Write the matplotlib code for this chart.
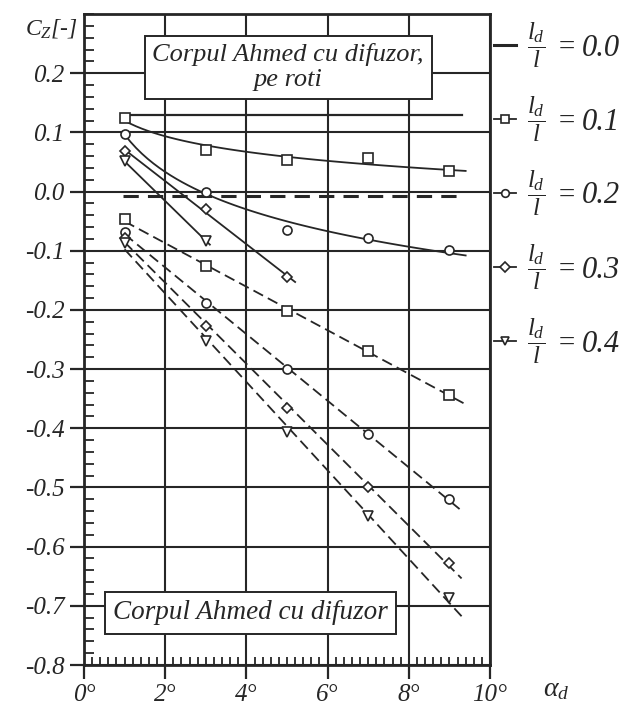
import numpy as np
import matplotlib.pyplot as plt
from matplotlib.lines import Line2D

plt.rcParams['font.family'] = 'Liberation Serif'
plt.rcParams['font.style'] = 'italic'
plt.rcParams['mathtext.fontset'] = 'custom'
plt.rcParams['mathtext.rm'] = 'Liberation Serif:italic'
plt.rcParams['mathtext.it'] = 'Liberation Serif:italic'

ink = '#262626'

# diffuser angle [deg]
alpha = [1, 3, 5, 7, 9]
ratios = ['0.0', '0.1', '0.2', '0.3', '0.4']
markers = [None, 's', 'o', 'D', 'v']

# Ahmed body with diffuser, on wheels (solid lines)
cz_wheels_00 = 0.13
cz_wheels_01 = [0.124, 0.070, 0.053, 0.057, 0.035]
cz_wheels_02 = [0.098, 0.000, -0.065, -0.078, -0.098]
cz_wheels_03 = [0.068, -0.030, -0.145]
cz_wheels_04 = [0.051, -0.083]

# Ahmed body with diffuser, no wheels (dashed lines)
cz_free_00 = -0.008
cz_free_01 = [-0.047, -0.126, -0.202, -0.270, -0.343]
cz_free_02 = [-0.068, -0.188, -0.300, -0.410, -0.520]
cz_free_03 = [-0.078, -0.228, -0.365, -0.499, -0.627]
cz_free_04 = [-0.087, -0.253, -0.407, -0.549, -0.686]

yticks = [-0.8, -0.7, -0.6, -0.5, -0.4, -0.3, -0.2, -0.1, 0.0, 0.1, 0.2]
xticks = [0, 2, 4, 6, 8, 10]

fig = plt.figure(figsize=(6.25, 7.14), dpi=100)
ax = fig.add_axes([84/625, 1-665/714, 406/625, 651/714])

mk = dict(ms=6.5, mfc='white', mec=ink, mew=1.2, ls='none', zorder=5)


def log_fit(x, y, x_end):
    # y = a + b*ln(x), least squares
    b, a = np.polyfit(np.log(x), y, 1)
    xs = np.linspace(x[0], x_end, 60)
    return xs, a + b*np.log(xs)


def lin_fit(x, y, x_end):
    k, c = np.polyfit(x, y, 1)
    xs = np.array([x[0], x_end])
    return xs, c + k*xs


# solid set
ax.plot([1, 9.3], [cz_wheels_00]*2, color=ink, lw=1.6)
xs, ys = log_fit(alpha, cz_wheels_01, 9.4)
ax.plot(xs, ys, color=ink, lw=1.3)
ax.plot(alpha, cz_wheels_01, marker='s', **mk)
xs, ys = log_fit(alpha, cz_wheels_02, 9.4)
ax.plot(xs, ys, color=ink, lw=1.3)
ax.plot(alpha, cz_wheels_02, marker='o', **mk)
xs, ys = lin_fit(alpha[:3], cz_wheels_03, 5.2)
ax.plot(xs, ys, color=ink, lw=1.3)
ax.plot(alpha[:3], cz_wheels_03, marker='D', **dict(mk, ms=5.5))
xs, ys = lin_fit(alpha[:2], cz_wheels_04, 3.1)
ax.plot(xs, ys, color=ink, lw=1.3)
ax.plot(alpha[:2], cz_wheels_04, marker='v', **mk)

# dashed set
ax.plot([0.95, 9.3], [cz_free_00]*2, color=ink, lw=2.2, dashes=(5, 3))
for vals, m, x_end in [(cz_free_01, 's', 9.4), (cz_free_02, 'o', 9.3),
                       (cz_free_03, 'D', 9.3), (cz_free_04, 'v', 9.3)]:
    xs, ys = lin_fit(alpha, vals, x_end)
    ax.plot(xs, ys, color=ink, lw=1.3, dashes=(6, 3))
    ax.plot(alpha, vals, marker=m, **dict(mk, ms=5.5 if m == 'D' else 6.5))

ax.set_xlim(0, 10)
ax.set_ylim(-0.8, 0.3)
ax.set_xticks(xticks)
ax.set_xticklabels([f'{t}°' for t in xticks])
ax.set_yticks(yticks)
ax.set_yticklabels([f'{t:.1f}' for t in yticks])
ax.set_xticks(np.arange(0, 10.01, 0.2), minor=True)
ax.set_yticks(np.arange(-0.8, 0.301, 0.02), minor=True)
ax.tick_params(which='major', direction='out', length=10, width=1.6,
               color=ink, labelsize=18, labelcolor=ink, pad=4)
ax.tick_params(which='minor', direction='in', length=7, width=1.3, color=ink)
ax.tick_params(axis='x', which='minor', length=6)
ax.grid(True, which='major', color=ink, lw=1.5)
for s in ax.spines.values():
    s.set_color(ink)
    s.set_linewidth(2)

box = dict(boxstyle='square,pad=0.3', fc='white', ec=ink, lw=1.4)
ax.text(5.03, 0.21, 'Corpul Ahmed cu difuzor,\npe roti', ha='center',
        va='center', fontsize=19, color=ink, bbox=box, zorder=6,
        linespacing=1.15)
ax.text(4.09, -0.712, 'Corpul Ahmed cu difuzor', ha='center', va='center',
        fontsize=19.5, color=ink, bbox=box, zorder=6)

fig.text(25/625, 1-28/714, r'$C_Z$[-]', fontsize=17, color=ink,
         va='center')
fig.text(543/625, 1-690/714, r'$\alpha_d$', fontsize=20, color=ink,
         va='center')

# legend at the right of the plot
for i, (r, m) in enumerate(zip(ratios, markers)):
    yf = 1 - (45 + i*74)/714
    x0, x1 = 494/625, 516/625
    if m is None:
        fig.add_artist(Line2D([x0, x1], [yf, yf], color=ink, lw=2.2,
                              transform=fig.transFigure))
    else:
        fig.add_artist(Line2D([x0, (x0+x1)/2, x1], [yf]*3, color=ink, lw=1.3,
                              marker=m, markevery=[1], ms=5.5, mfc='white',
                              mec=ink, mew=1.2, transform=fig.transFigure))
    fig.text(527/625, yf, r'$\dfrac{l_d}{l}$', fontsize=18, color=ink,
             va='center')
    fig.text(557/625, yf - 3/714, '=', fontsize=21, color=ink, va='center')
    fig.text(582/625, yf - 3/714, r, fontsize=22, color=ink, va='center')

fig.savefig('out.png', dpi=100)
